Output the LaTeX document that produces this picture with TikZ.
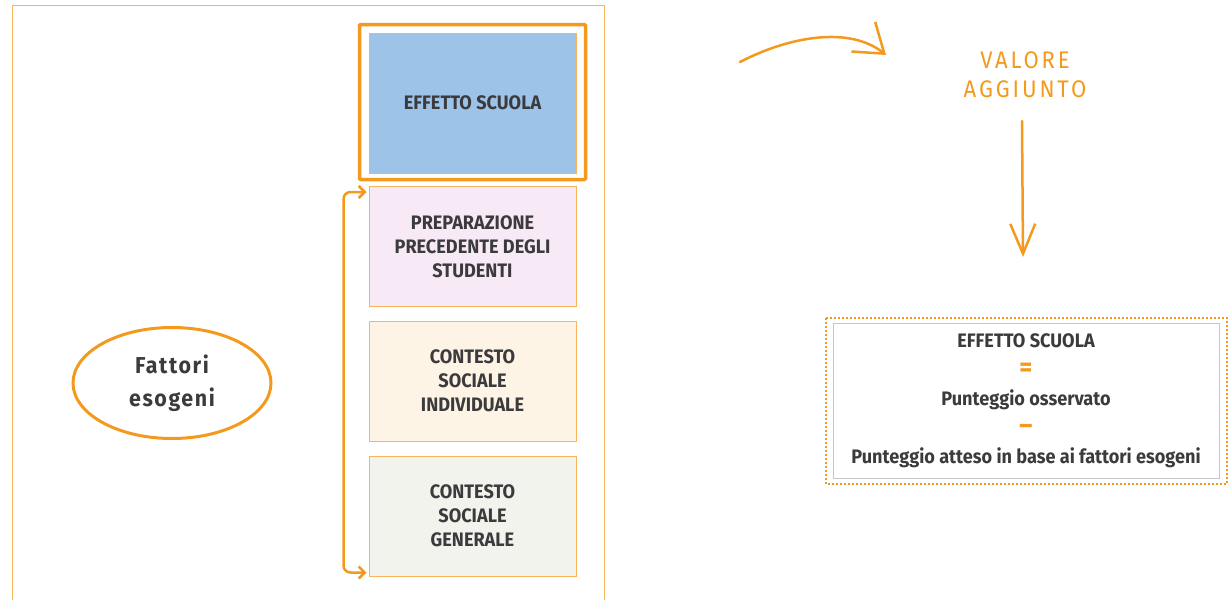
\documentclass[tikz,border=0pt]{standalone}
\usepackage{fontspec}
\setmainfont{Fira Sans}[FakeStretch=0.93]
\newfontfamily\spaziato{Fira Sans}[LetterSpace=7,FakeStretch=0.93]
\newfontfamily\largo{Fira Sans}[LetterSpace=12,FakeStretch=0.92]
\definecolor{vsarancio}{HTML}{F39A1E}
\definecolor{vsaranciochiaro}{HTML}{F9B35A}
\definecolor{vsblu}{HTML}{9DC3E8}
\definecolor{vsrosa}{HTML}{F8E9F7}
\definecolor{vscrema}{HTML}{FEF4E5}
\definecolor{vsgrigio}{HTML}{F3F3EE}
\definecolor{vstesto}{HTML}{3B3B3D}
\def\maucam{vsarancio}
\def\mauvien{vsaranciochiaro}
\def\mauchu{vstesto}
\usetikzlibrary{shapes.geometric,arrows.meta,calc}

\begin{document}
\begin{tikzpicture}[x=1pt,y=-1pt,
	fattore/.style={draw=\mauvien, line width=1pt, minimum width=207pt, minimum height=120pt, inner sep=0pt, align=center, text=\mauchu, font=\fontsize{19.5}{24}\selectfont\bfseries},
	freccia/.style={draw=\maucam, line width=2.5pt, line cap=round, line join=round}]
		\useasboundingbox (0,0) rectangle (1228,600);
		% cornice
		\draw[\mauvien, line width=1pt] (12,600) |- (604,5) -- (604,600);
		% colonna dei fattori
		\path (472.5,103) node[fattore, fill=vsblu, minimum height=140pt] (scuola) {EFFETTO SCUOLA}
		(472.5,246.5) node[fattore, fill=vsrosa] (prep) {PREPARAZIONE\\PRECEDENTE DEGLI\\STUDENTI}
		(472.5,381) node[fattore, fill=vscrema] (indiv) {CONTESTO\\SOCIALE\\INDIVIDUALE}
		(472.5,516) node[fattore, fill=vsgrigio] (gen) {CONTESTO\\SOCIALE\\GENERALE}
		;
		\draw[\maucam, line width=3.5pt, rounded corners=1pt] ($(scuola.north west)+(-9pt,8pt)$) rectangle ($(scuola.south east)+(9pt,-6pt)$);
		\draw[freccia, rounded corners=7pt, {Straight Barb[length=6pt,width=12pt]}-{Straight Barb[length=6pt,width=12pt]}, shorten <=2pt, shorten >=2pt]
		([yshift=-6pt]prep.north west) -- ++(-25pt,0) |- ([yshift=4pt]gen.south west);
		% fattori esogeni
		\path (172,383) node[ellipse, draw=\maucam, line width=3pt, minimum width=198pt, minimum height=111pt, align=center, text=\mauchu, font=\spaziato\fontsize{23}{33}\selectfont\bfseries] (esogeni) {Fattori\\esogeni};
		% valore aggiunto
		\path (1025,75) node[align=center, text=\maucam, font=\largo\fontsize{24}{29}\selectfont] (valore) {VALORE\\AGGIUNTO};
		\coordinate (curvainizio) at (740,62);
		\coordinate (curvafine) at (886,55);
		\draw[freccia, -{Straight Barb[length=27pt,width=38pt]}] (curvainizio) .. controls (790,36) and (850,26) .. (curvafine);
		\coordinate (giuinizio) at (1022,121);
		\coordinate (giufine) at (1023,257);
		\draw[freccia, -{Straight Barb[length=30pt,width=25pt]}] (giuinizio) -- (giufine);
		% formula
		\path (1026,400.5) node[draw=black!22, line width=1pt, minimum width=386pt, minimum height=155pt, inner sep=0pt, align=center, text=\mauchu, font=\fontsize{19.5}{29}\selectfont\bfseries] (formula)
		{EFFETTO SCUOLA\\ \textcolor{\maucam}{\fontsize{27}{29}\selectfont =}\\ Punteggio osservato\\ \textcolor{\maucam}{\fontsize{27}{29}\selectfont –}\\ Punteggio atteso in base ai fattori esogeni};
		\draw[\maucam, line width=2pt, dash pattern=on 2pt off 2pt] ($(formula.north west)+(-7pt,5pt)$) rectangle ($(formula.south east)+(7pt,-5pt)$);
	\end{tikzpicture}
\end{document}
